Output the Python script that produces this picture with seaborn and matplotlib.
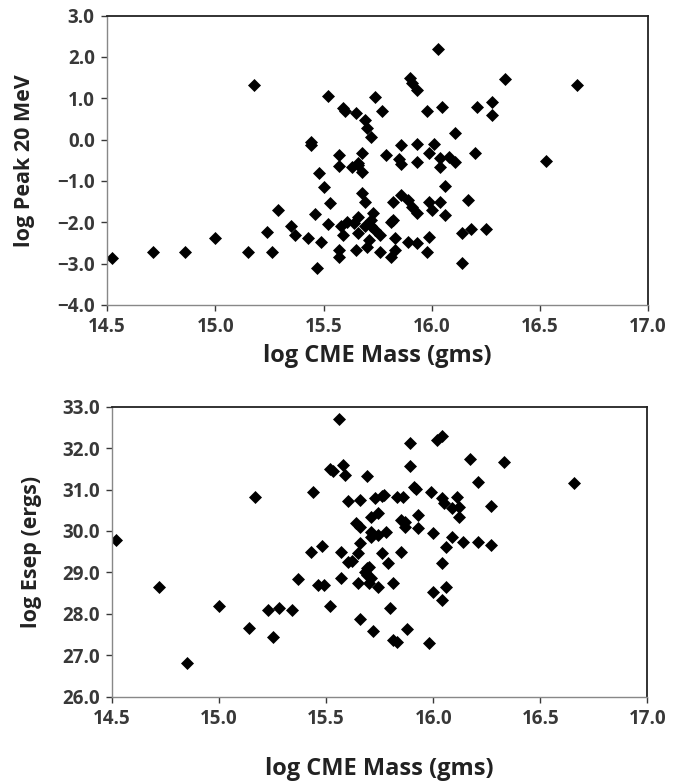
import pandas as pd
import matplotlib.pyplot as plt
import seaborn as sns

# top panel: log CME mass vs log peak 20 MeV proton flux
mass_top = [14.52, 14.71, 14.86, 15.00, 15.15, 15.18, 15.24, 15.26, 15.29, 15.35,
            15.37, 15.43, 15.44, 15.44, 15.46, 15.47, 15.48, 15.49, 15.50, 15.52,
            15.53, 15.52, 15.57, 15.57, 15.57, 15.57, 15.59, 15.60, 15.59, 15.58,
            15.61, 15.63, 15.65, 15.66, 15.66, 15.66, 15.64, 15.66, 15.65, 15.68,
            15.68, 15.68, 15.69, 15.69, 15.70, 15.69, 15.70, 15.71, 15.72, 15.72,
            15.72, 15.73, 15.74, 15.74, 15.76, 15.76, 15.77, 15.79, 15.81, 15.81,
            15.82, 15.82, 15.83, 15.83, 15.85, 15.86, 15.86, 15.86, 15.89, 15.89,
            15.90, 15.91, 15.93, 15.91, 15.93, 15.93, 15.93, 15.93, 15.98, 15.99,
            15.99, 15.99, 15.98, 16.00, 16.01, 16.03, 16.04, 16.04, 16.04, 16.05,
            16.06, 16.06, 16.08, 16.11, 16.11, 16.14, 16.14, 16.17, 16.18, 16.20,
            16.21, 16.25, 16.28, 16.28, 16.34, 16.53, 16.67]
peak20 = [-2.86, -2.72, -2.72, -2.38, -2.72, 1.31, -2.23, -2.72, -1.70, -2.10,
          -2.30, -2.38, -0.05, -0.12, -1.80, -3.10, -0.80, -2.48, -1.15, 1.06,
          -1.53, -2.04, -0.37, -0.63, -2.67, -2.84, 0.77, 0.70, -2.30, -2.10,
          -1.99, -0.65, 0.65, -0.56, -0.61, -1.86, -2.02, -2.26, -2.67, -0.32,
          -0.78, -1.29, -1.50, 0.48, 0.29, -2.10, -2.59, -2.42, 0.07, -1.94,
          -2.10, -1.77, 1.04, -2.18, -2.30, -2.72, 0.70, -0.37, -1.99, -2.83,
          -1.50, -1.94, -2.38, -2.67, -0.48, -0.12, -0.60, -1.33, -1.46, -2.47,
          1.50, 1.38, 1.21, -1.62, -0.10, -0.53, -1.77, -2.50, 0.70, -0.32,
          -1.50, -2.35, -2.72, -1.70, -0.10, 2.20, -0.45, -0.65, -1.50, 0.79,
          -1.13, -1.82, -0.41, -0.53, 0.17, -2.26, -2.98, -1.46, -2.15, -0.32,
          0.79, -2.15, 0.92, 0.60, 1.47, -0.51, 1.31]

# bottom panel: log CME mass vs log Esep
mass_bot = [14.52, 14.72, 14.85, 15.00, 15.14, 15.17, 15.23, 15.25, 15.28, 15.34,
            15.37, 15.43, 15.44, 15.46, 15.48, 15.49, 15.52, 15.52, 15.53, 15.56,
            15.57, 15.57, 15.58, 15.59, 15.60, 15.60, 15.62, 15.64, 15.65, 15.65,
            15.66, 15.66, 15.66, 15.66, 15.68, 15.69, 15.69, 15.69, 15.70, 15.70,
            15.71, 15.71, 15.71, 15.71, 15.72, 15.73, 15.74, 15.74, 15.74, 15.76,
            15.76, 15.77, 15.78, 15.79, 15.80, 15.81, 15.81, 15.83, 15.83, 15.85,
            15.85, 15.86, 15.87, 15.87, 15.88, 15.89, 15.89, 15.91, 15.92, 15.93,
            15.93, 15.98, 15.99, 16.00, 16.00, 16.02, 16.04, 16.04, 16.04, 16.04,
            16.05, 16.06, 16.06, 16.09, 16.09, 16.11, 16.12, 16.12, 16.14, 16.17,
            16.21, 16.21, 16.27, 16.27, 16.33, 16.66]
esep = [29.79, 28.65, 26.82, 28.19, 27.66, 30.83, 28.10, 27.44, 28.14, 28.10,
        28.85, 29.50, 30.95, 28.70, 29.64, 28.70, 28.19, 31.50, 31.45, 32.71,
        29.50, 28.87, 31.60, 31.36, 30.72, 29.26, 29.28, 30.20, 29.47, 28.75,
        29.71, 30.10, 30.75, 27.88, 29.01, 31.33, 29.11, 28.94, 28.75, 29.13,
        30.34, 29.98, 29.86, 28.87, 27.59, 30.80, 30.44, 29.91, 28.65, 29.47,
        30.85, 30.87, 29.98, 29.23, 28.14, 28.75, 27.37, 27.32, 30.83, 29.50,
        30.27, 30.83, 30.22, 30.10, 27.64, 32.13, 31.57, 31.07, 31.01, 30.39,
        30.08, 27.30, 30.95, 29.96, 28.53, 32.20, 32.28, 30.80, 28.34, 29.23,
        30.68, 29.62, 28.65, 30.56, 29.86, 30.83, 30.58, 30.34, 29.74, 31.74,
        31.19, 29.74, 30.61, 29.67, 31.67, 31.16]

top = pd.DataFrame({'mass': mass_top, 'peak': peak20})
bot = pd.DataFrame({'mass': mass_bot, 'esep': esep})

sns.set_style('white')
plt.rcParams['font.family'] = ['Open Sans', 'DejaVu Sans']

fig = plt.figure(figsize=(6.96, 7.82), dpi=100)
ax1 = fig.add_axes([0.154, 0.610, 0.777, 0.370])
ax2 = fig.add_axes([0.161, 0.109, 0.769, 0.371])

sns.scatterplot(data=top, x='mass', y='peak', marker='D', s=44, color='black',
                edgecolor='black', linewidth=0, ax=ax1)
sns.scatterplot(data=bot, x='mass', y='esep', marker='D', s=44, color='black',
                edgecolor='black', linewidth=0, ax=ax2)

def decorate(ax, ylo, yhi, ylabel, xpad, ypad):
    ax.set_xlim(14.5, 17.0)
    ax.set_ylim(ylo, yhi)
    ax.set_xticks([14.5, 15.0, 15.5, 16.0, 16.5, 17.0])
    ax.set_yticks(range(ylo, yhi + 1))
    ax.xaxis.set_major_formatter('{x:.1f}')
    ax.yaxis.set_major_formatter('{x:.1f}')
    ax.set_xlabel('log CME Mass (gms)', fontsize=17, fontweight='bold',
                  color='#222222', labelpad=xpad)
    ax.set_ylabel(ylabel, fontsize=15.5, fontweight='bold', color='#222222',
                  labelpad=ypad)
    ax.tick_params(axis='both', labelsize=13.5, colors='#383838', length=4,
                   width=1, direction='out', pad=5, bottom=True, left=True)
    for lab in ax.get_xticklabels() + ax.get_yticklabels():
        lab.set_fontweight('bold')
    for side in ['top', 'right']:
        ax.spines[side].set_color('#222222')
        ax.spines[side].set_linewidth(1.3)
    for side in ['left', 'bottom']:
        ax.spines[side].set_color('#888888')
        ax.spines[side].set_linewidth(1.0)

decorate(ax1, -4, 3, 'log Peak 20 MeV', 5, 16)
decorate(ax2, 26, 33, 'log Esep (ergs)', 20, 14)

fig.savefig('out.png', dpi=100)
